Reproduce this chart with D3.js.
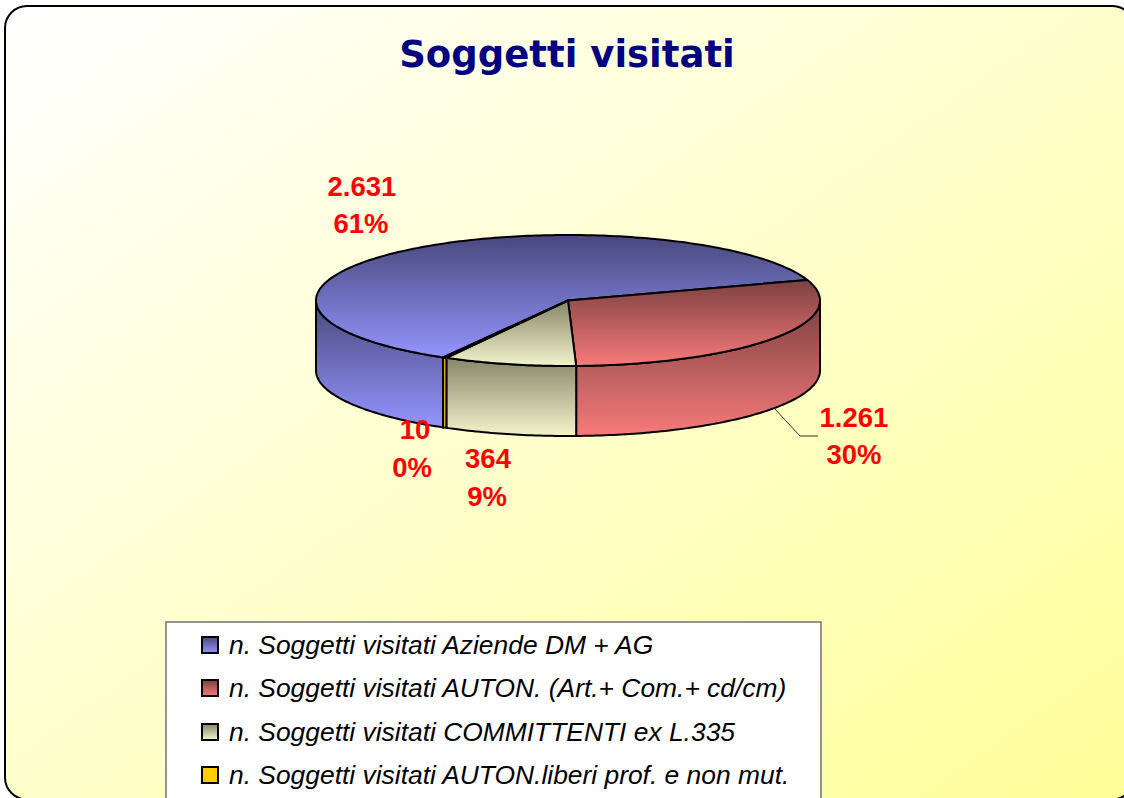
<!DOCTYPE html>
<html><head><meta charset="utf-8">
<script src="https://cdn.jsdelivr.net/npm/d3@7/dist/d3.min.js"></script>
<style>html,body{margin:0;padding:0;background:#fff;overflow:hidden}svg{display:block}</style>
</head><body><div id="chart"></div>
<script>
const title = "Soggetti visitati";
const categories = [
  "n. Soggetti visitati Aziende DM + AG",
  "n. Soggetti visitati AUTON. (Art.+ Com.+ cd/cm)",
  "n. Soggetti visitati COMMITTENTI ex L.335",
  "n. Soggetti visitati AUTON.liberi prof. e non mut."
];
const values = [2631, 1261, 364, 10];
const valueLabels = ["2.631", "1.261", "364", "10"];
const percentLabels = ["61%", "30%", "9%", "0%"];
const colorTop = ["#48487c", "#7c4040", "#86866a", "#ffcc00"];
const colorBottom = ["#9494ff", "#f87a7a", "#f4f4cc", "#ffcc00"];

const W = 1124, H = 798;
const cx = 568, cy = 300.5, rx = 252, ry = 65.5, depth = 70;
const START = 209.7 * Math.PI / 180;
const valuePos = [[362, 196], [854, 427], [488, 468], [415, 439]];
const percentPos = [[361, 233], [854, 464], [487, 506], [412, 477]];
const legendRowY = [645, 688, 732, 775];

const svg = d3.select("#chart").append("svg").attr("width", W).attr("height", H);
const defs = svg.append("defs");

const bg = defs.append("linearGradient").attr("id", "bg")
  .attr("x1", "0").attr("y1", "0").attr("x2", "1").attr("y2", "1");
bg.append("stop").attr("offset", "0").attr("stop-color", "#ffffff");
bg.append("stop").attr("offset", "1").attr("stop-color", "#ffff99");

values.forEach((_, i) => {
  const g = defs.append("linearGradient").attr("id", "grad" + i)
    .attr("x1", "0").attr("y1", "0").attr("x2", "0").attr("y2", "1");
  g.append("stop").attr("offset", "0").attr("stop-color", colorTop[i]);
  g.append("stop").attr("offset", "1").attr("stop-color", colorBottom[i]);
});

svg.append("rect").attr("x", 5).attr("y", 6).attr("width", 1129).attr("height", 793.5)
  .attr("rx", 22).attr("ry", 22).attr("fill", "url(#bg)")
  .attr("stroke", "#000").attr("stroke-width", 2);

svg.append("text").attr("x", 567).attr("y", 67).attr("text-anchor", "middle")
  .attr("font-family", "DejaVu Sans").attr("font-weight", "bold").attr("font-size", 37)
  .attr("fill", "#000080").text(title);

const pie = d3.pie().sort(null).startAngle(START).endAngle(START + 2 * Math.PI);
const arcs = pie(values);
const px = a => cx + rx * Math.sin(a);
const py = a => cy - ry * Math.cos(a);
const curve = d3.line().x(d => d[0]).y(d => d[1]);

function samples(a0, a1, dy) {
  const n = Math.max(2, Math.ceil(Math.abs(a1 - a0) * 60));
  return d3.range(n + 1).map(k => {
    const a = a0 + (a1 - a0) * k / n;
    return [px(a), py(a) + dy];
  });
}
const FRONT0 = Math.PI / 2, FRONT1 = 3 * Math.PI / 2;
const walls = [];
arcs.forEach((d, i) => {
  [0, 2 * Math.PI].forEach(off => {
    const a0 = Math.max(d.startAngle - off, FRONT0), a1 = Math.min(d.endAngle - off, FRONT1);
    if (a1 > a0) walls.push({ i, a0, a1 });
  });
});

const pieG = svg.append("g");
const leader = [[773, 407], [800, 436], [818, 436]];
pieG.append("path").attr("d", curve(leader)).attr("fill", "none").attr("stroke", "#333").attr("stroke-width", 1);

pieG.selectAll("path.wall").data(walls).join("path").attr("class", "wall")
  .attr("d", w => curve(samples(w.a0, w.a1, 0).concat(samples(w.a1, w.a0, depth))) + "Z")
  .attr("fill", w => `url(#grad${w.i})`)
  .attr("stroke", "#000").attr("stroke-width", 2).attr("stroke-linejoin", "round");

pieG.selectAll("path.top").data(arcs).join("path").attr("class", "top")
  .attr("d", d => curve([[cx, cy]].concat(samples(d.startAngle, d.endAngle, 0))) + "Z")
  .attr("fill", (d, i) => `url(#grad${i})`)
  .attr("stroke", "#000").attr("stroke-width", 2).attr("stroke-linejoin", "round");

const lab = svg.append("g").attr("font-family", "Liberation Sans").attr("font-weight", "bold")
  .attr("font-size", 27.5).attr("fill", "#ff0000").attr("text-anchor", "middle");
values.forEach((_, i) => {
  lab.append("text").attr("x", valuePos[i][0]).attr("y", valuePos[i][1]).text(valueLabels[i]);
  lab.append("text").attr("x", percentPos[i][0]).attr("y", percentPos[i][1]).text(percentLabels[i]);
});

svg.append("rect").attr("x", 166).attr("y", 622).attr("width", 655).attr("height", 200)
  .attr("fill", "#fff").attr("stroke", "#707070").attr("stroke-width", 1.5);
const leg = svg.selectAll("g.leg").data(categories).join("g").attr("class", "leg");
leg.append("rect").attr("x", 202).attr("y", (d, i) => legendRowY[i] - 8).attr("width", 16).attr("height", 16)
  .attr("fill", (d, i) => `url(#grad${i})`).attr("stroke", "#000").attr("stroke-width", 2);
leg.append("text").attr("x", 229).attr("y", (d, i) => legendRowY[i] + 9)
  .attr("font-family", "Liberation Sans").attr("font-style", "italic").attr("font-size", 26.4)
  .attr("fill", "#000").text(d => d);
</script></body></html>
